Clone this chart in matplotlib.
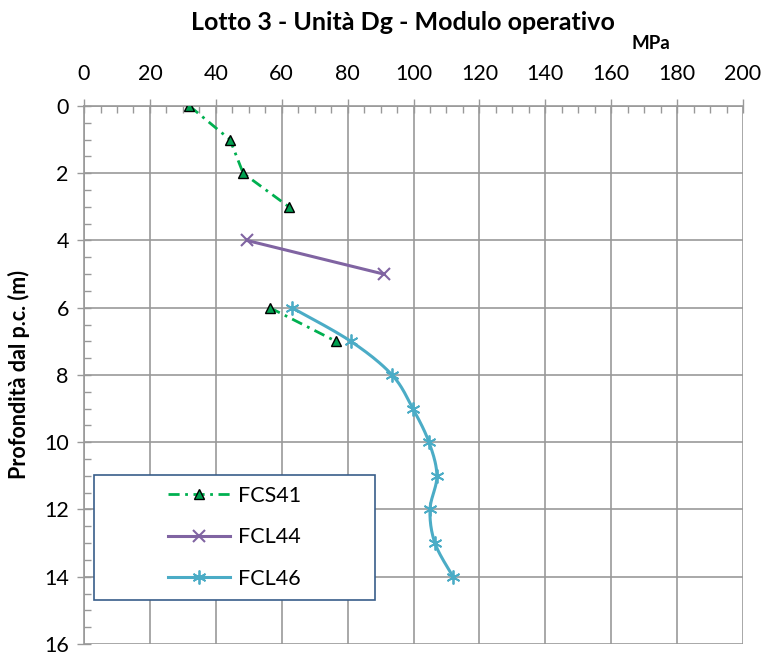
import matplotlib
matplotlib.use("Agg")
import matplotlib.pyplot as plt
from matplotlib.patches import Rectangle
import numpy as np

plt.rcParams['font.family'] = ['Lato', 'DejaVu Sans']

# depth (m) vs modulo operativo (MPa)
fcs41_depth = [0, 1, 2, 3, 4, 5, 6, 7]
fcs41_mod = [32, 44.3, 48.3, 62.2, np.nan, np.nan, 56.4, 76.5]

fcl44_depth = [4, 5]
fcl44_mod = [49.5, 91]

fcl46_depth = [6, 7, 8, 9, 10, 11, 12, 13, 14]
fcl46_mod = [63.1, 81, 93.5, 99.8, 104.7, 107.1, 105, 106.5, 112]


def smooth(xs, ys, n=20):
    # Catmull-Rom curve through the points (like Excel's smoothed line)
    p = np.column_stack([xs, ys]).astype(float)
    p = np.vstack([p[0], p, p[-1]])
    out = []
    t = np.linspace(0, 1, n)[:, None]
    for i in range(1, len(p) - 2):
        p0, p1, p2, p3 = p[i - 1], p[i], p[i + 1], p[i + 2]
        seg = 0.5 * ((2 * p1) + (-p0 + p2) * t + (2 * p0 - 5 * p1 + 4 * p2 - p3) * t ** 2
                     + (-p0 + 3 * p1 - 3 * p2 + p3) * t ** 3)
        out.append(seg)
    out = np.vstack(out)
    return out[:, 0], out[:, 1]


fig = plt.figure(figsize=(7.64, 6.58), dpi=100)
ax = fig.add_axes([0.110, 0.0213, 0.8625, 0.8176])

grid_c = '#999999'
green = '#00b050'
purple = '#8064a2'
cyan = '#4bacc6'

ax.plot(fcs41_mod, fcs41_depth, color=green, lw=2, dashes=(4, 2, 1, 2),
        marker='^', ms=7, mfc='#00a050', mec='black', mew=1, label='FCS41', zorder=4)
ax.plot(fcl44_mod, fcl44_depth, color=purple, lw=2.2, marker='x', ms=9, mew=1.5,
        label='FCL44', zorder=3)
sx, sy = smooth(fcl46_mod, fcl46_depth)
ax.plot(sx, sy, color=cyan, lw=2.2, zorder=3)
ax.plot(fcl46_mod, fcl46_depth, color=cyan, lw=0, marker=(6, 2, 0), ms=10, mew=1.3, zorder=3)
ax.plot([], [], color=cyan, lw=2.2, marker=(6, 2, 0), ms=10, mew=1.3, label='FCL46')

ax.set_xlim(0, 200)
ax.set_ylim(16, 0)
ax.set_xticks(np.arange(0, 201, 20))
ax.set_xticks(np.arange(0, 201, 5), minor=True)
ax.set_yticks(np.arange(0, 17, 2))
ax.set_yticks(np.arange(0, 16.1, 0.5), minor=True)
ax.xaxis.tick_top()
ax.tick_params(axis='both', which='major', direction='inout', length=10, width=1,
               color=grid_c, labelsize=15.5, pad=6)
ax.tick_params(axis='both', which='minor', direction='in', length=5, width=1, color=grid_c)
ax.tick_params(axis='x', which='both', top=True, bottom=False)
ax.tick_params(axis='x', which='major', pad=11)
ax.grid(True, which='major', color=grid_c, lw=1.2)
ax.set_axisbelow(True)
for side in ['left', 'top']:
    ax.spines[side].set_color(grid_c)
    ax.spines[side].set_linewidth(1.2)
ax.spines['right'].set_visible(False)
ax.spines['bottom'].set_visible(False)

ax.set_ylabel('Profondità dal p.c. (m)', fontsize=15.5, fontweight='bold', labelpad=10)

fig.text(0.527, 0.966, 'Lotto 3 - Unità Dg - Modulo operativo', ha='center', va='center',
         fontsize=18, fontweight='bold')
fig.text(0.852, 0.934, 'MPa', ha='center', va='center', fontsize=13.5, fontweight='bold')

# legend box drawn separately, entries centred inside it
box = (0.015, 0.082, 0.426, 0.232)
ax.add_patch(Rectangle(box[:2], box[2], box[3], transform=ax.transAxes, fill=True,
                       facecolor='white', edgecolor='#385d8a', lw=1.2, zorder=5))
leg = ax.legend(loc='center', bbox_to_anchor=(box[0] + box[2] / 2, box[1] + box[3] / 2),
                fontsize=15.5, frameon=False, labelspacing=1.0,
                handlelength=2.9, handletextpad=0.35, borderaxespad=0)
leg.set_zorder(6)

fig.savefig('out.png', dpi=100)
